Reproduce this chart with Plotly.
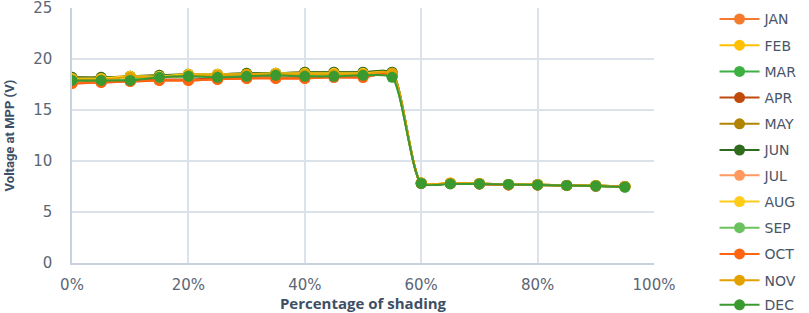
import plotly.graph_objects as go

shading = [0.00, 0.05, 0.10, 0.15, 0.20, 0.25, 0.30, 0.35, 0.40, 0.45,
           0.50, 0.55, 0.60, 0.65, 0.70, 0.75, 0.80, 0.85, 0.90, 0.95]

months = ["JAN", "FEB", "MAR", "APR", "MAY", "JUN",
          "JUL", "AUG", "SEP", "OCT", "NOV", "DEC"]

jan = [17.6, 17.7, 17.8, 17.9, 17.9, 18.0, 18.1, 18.1, 18.1, 18.2, 18.2, 18.5, 7.8, 7.8, 7.75, 7.65, 7.65, 7.6, 7.55, 7.5]
feb = [18.1, 18.1, 18.3, 18.3, 18.5, 18.5, 18.5, 18.6, 18.6, 18.6, 18.6, 18.6, 7.85, 7.85, 7.8, 7.7, 7.7, 7.6, 7.6, 7.5]
mar = [17.9, 17.9, 18.0, 18.2, 18.3, 18.3, 18.4, 18.5, 18.4, 18.4, 18.4, 18.3, 7.8, 7.8, 7.75, 7.7, 7.65, 7.6, 7.55, 7.45]
apr = [17.7, 17.8, 17.9, 18.0, 18.0, 18.1, 18.2, 18.2, 18.2, 18.3, 18.3, 18.5, 7.8, 7.8, 7.75, 7.65, 7.65, 7.6, 7.55, 7.5]
may = [18.2, 18.2, 18.3, 18.4, 18.5, 18.5, 18.6, 18.6, 18.7, 18.7, 18.7, 18.7, 7.85, 7.8, 7.8, 7.7, 7.7, 7.6, 7.6, 7.5]
jun = [18.2, 18.2, 18.3, 18.4, 18.5, 18.5, 18.6, 18.6, 18.7, 18.7, 18.7, 18.7, 7.85, 7.8, 7.8, 7.7, 7.7, 7.6, 7.6, 7.5]
jul = [17.6, 17.7, 17.8, 17.9, 17.9, 18.0, 18.1, 18.1, 18.1, 18.2, 18.2, 18.5, 7.8, 7.8, 7.75, 7.65, 7.65, 7.6, 7.55, 7.5]
aug = [18.1, 18.1, 18.3, 18.3, 18.5, 18.5, 18.5, 18.6, 18.6, 18.6, 18.6, 18.6, 7.85, 7.85, 7.8, 7.7, 7.7, 7.6, 7.6, 7.5]
sep = [17.9, 17.9, 18.0, 18.2, 18.3, 18.3, 18.4, 18.5, 18.4, 18.4, 18.4, 18.3, 7.8, 7.8, 7.75, 7.7, 7.65, 7.6, 7.55, 7.45]
oct_ = [17.6, 17.7, 17.8, 17.9, 17.9, 18.0, 18.1, 18.1, 18.1, 18.2, 18.2, 18.5, 7.8, 7.8, 7.75, 7.65, 7.65, 7.6, 7.55, 7.5]
nov = [18.0, 18.0, 18.2, 18.2, 18.4, 18.4, 18.5, 18.5, 18.5, 18.5, 18.5, 18.6, 7.85, 7.85, 7.8, 7.7, 7.7, 7.6, 7.6, 7.5]
dec = [17.9, 17.9, 17.9, 18.2, 18.3, 18.2, 18.3, 18.4, 18.3, 18.3, 18.4, 18.2, 7.8, 7.75, 7.75, 7.7, 7.65, 7.6, 7.55, 7.45]

series = [jan, feb, mar, apr, may, jun, jul, aug, sep, oct_, nov, dec]

colors = ["#F47A2E", "#FFC000", "#3CB043", "#BF4A0C", "#B08400", "#2E6B1F",
          "#FF9960", "#FFCC1A", "#6CC25E", "#FF6410", "#E3A100", "#3A9A30"]

y_ticks = [0, 5, 10, 15, 20, 25]
x_ticks = [0.0, 0.2, 0.4, 0.6, 0.8, 1.0]

legend_of = ["legend"] * 6 + ["legend2"] * 5 + ["legend3"]

fig = go.Figure()
for i, (name, vals) in enumerate(zip(months, series)):
    fig.add_trace(go.Scatter(
        x=shading, y=vals, name=name, mode="lines+markers",
        line=dict(color=colors[i], width=2, shape="spline", smoothing=0.6),
        marker=dict(color=colors[i], size=11),
        legendgroup=name,
        legend=legend_of[i],
    ))

tick_font = dict(family="DejaVu Sans, sans-serif", size=15, color="#5B6675")
title_font = dict(family="Open Sans, Liberation Sans, sans-serif", size=15, color="#3D4F66")
legend_font = dict(family="DejaVu Sans, sans-serif", size=14, color="#4A5568")

legend_common = dict(
    x=1.104, xanchor="left", yanchor="top",
    font=legend_font, traceorder="grouped", tracegroupgap=5,
    itemwidth=40, bgcolor="rgba(0,0,0,0)", maxheight=313,
)

fig.update_layout(
    width=809, height=313,
    margin=dict(l=72, r=155, t=8, b=50, autoexpand=False),
    paper_bgcolor="white", plot_bgcolor="white",
    showlegend=True,
    legend=dict(y=1.018, **legend_common),
    legend2=dict(y=0.405, **legend_common),
    legend3=dict(y=-0.103, **legend_common),
    xaxis=dict(
        range=[0, 1], tickvals=x_ticks, tickformat=".0%",
        showgrid=True, gridcolor="#DCE2EA", gridwidth=1.5,
        showline=True, linecolor="#C9D2DE", linewidth=1.5,
        zeroline=False, tickfont=tick_font, ticks="",
        ticklabelstandoff=7, ticklabeloverflow="allow",
        title=dict(text="<b>Percentage of shading</b>", font=title_font, standoff=8),
    ),
    yaxis=dict(
        range=[0, 25], tickvals=y_ticks,
        showgrid=True, gridcolor="#DCE2EA", gridwidth=1.5,
        showline=True, linecolor="#C9D2DE", linewidth=1.5,
        zeroline=False, tickfont=tick_font, ticks="",
        ticklabelstandoff=15, ticklabeloverflow="allow",
        title=dict(text="<b>Voltage at MPP (V)</b>",
                   font=dict(family="Roboto, sans-serif", size=13, color="#3D4F66"),
                   standoff=16),
    ),
)

fig.write_html("out.html", config={"displayModeBar": False},
               post_script="document.body.style.margin='0';")
